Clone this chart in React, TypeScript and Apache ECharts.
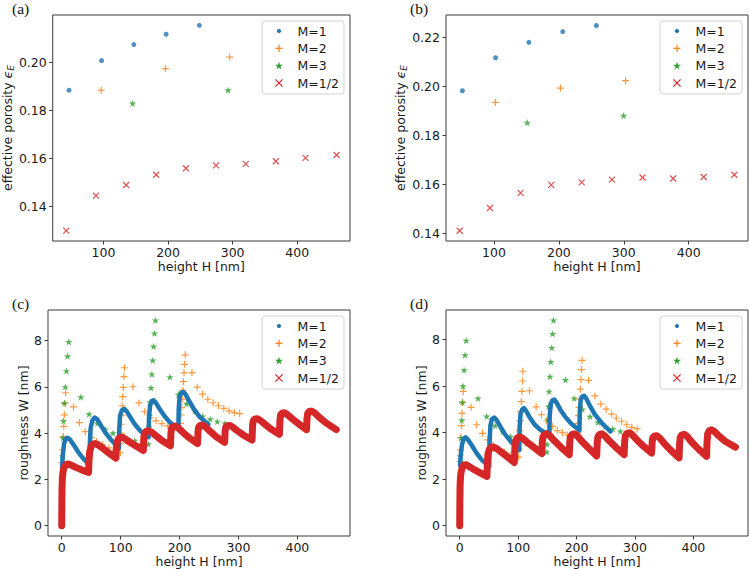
import React, { useEffect, useRef } from 'react';
import * as echarts from 'echarts';

// ---------------- data ----------------
const SERIES_NAMES = ['M=1', 'M=2', 'M=3', 'M=1/2'];

// (a) effective porosity vs. height
const aHeightM1 = [46.5, 97, 147, 197, 248.5];
const aPorosityM1 = [0.1885, 0.2008, 0.2075, 0.2118, 0.2155];
const aHeightM2 = [96.5, 196, 295.5];
const aPorosityM2 = [0.1885, 0.1975, 0.2023];
const aHeightM3 = [145, 293];
const aPorosityM3 = [0.183, 0.1885];
const aHeightMHalf = [42.2, 88.3, 135, 181.6, 227.7, 274.3, 320.4, 367, 413, 461];
const aPorosityMHalf = [0.13, 0.1446, 0.149, 0.1533, 0.156, 0.1572, 0.1578, 0.1589, 0.1603, 0.1615];

// (b) effective porosity vs. height
const bHeightM1 = [51.5, 102.5, 153.8, 206, 257.8];
const bPorosityM1 = [0.1983, 0.2118, 0.2181, 0.2225, 0.225];
const bHeightM2 = [102.2, 202.5, 302.8];
const bPorosityM2 = [0.1935, 0.1994, 0.2024];
const bHeightM3 = [151.3, 299.7];
const bPorosityM3 = [0.1853, 0.1881];
const bHeightMHalf = [47.3, 93.9, 141, 188.2, 235.2, 281.8, 328.9, 376, 423.1, 470.2];
const bPorosityMHalf = [0.141, 0.1503, 0.1565, 0.1598, 0.1608, 0.1619, 0.1628, 0.1624, 0.163, 0.1639];

// (c) roughness W vs. height H, [H, W]
const cRoughM1: number[][] = [
  [0.5, 2.45], [2, 3.1], [4, 3.55], [7, 3.76], [10, 3.8], [14, 3.72], [20, 3.5], [28, 3.18], [36, 2.92], [47, 2.62],
  [47.5, 3.4], [49, 4.2], [52, 4.55], [56, 4.67], [60, 4.6], [66, 4.35], [74, 4.02], [84, 3.7], [97, 3.35],
  [97.5, 4.1], [99, 4.75], [102, 4.98], [106, 5.05], [110, 4.95], [116, 4.7], [124, 4.38], [134, 4.08], [147.5, 3.82],
  [148, 4.6], [150, 5.2], [153, 5.38], [156, 5.42], [160, 5.3], [166, 5.05], [174, 4.75], [184, 4.45], [198, 4.18],
  [198.5, 5.0], [200, 5.55], [203, 5.74], [206, 5.78], [210, 5.68], [216, 5.4], [224, 5.05], [234, 4.7], [249, 4.38],
];
const cRoughM2: number[][] = [
  [0.8, 2.73], [1.5, 3.28], [2.5, 3.85], [3.5, 4.29], [4.5, 4.79], [5.5, 5.28], [6.5, 5.74],
  [20, 5.13], [30, 4.45], [40, 4.06], [50, 3.8], [59, 3.64], [69, 3.5], [80, 3.36], [91, 3.26],
  [99.5, 3.15], [100, 3.55], [100.5, 4.0], [101, 4.38], [101.5, 4.75], [102.5, 5.18], [103.5, 5.57], [104.5, 5.97], [105.5, 6.44], [106.5, 6.82],
  [121, 6.0], [131, 5.3], [141, 4.92], [150.5, 4.65], [160, 4.53], [170, 4.41], [180, 4.31], [190, 4.23],
  [200.5, 4.15], [201.5, 4.42], [202.5, 4.78], [203.5, 5.1], [204.5, 5.46], [205.5, 5.84], [206.5, 6.22], [207.5, 6.6], [208.5, 6.97], [209.5, 7.38],
  [221, 6.61], [230, 5.98], [239, 5.68], [248, 5.46], [257, 5.31], [266, 5.18], [275, 5.07], [284, 4.96], [293, 4.88], [302, 4.84],
];
const cRoughM3: number[][] = [
  [0, 0], [1, 3.0], [2, 3.79], [3, 4.53], [4.5, 5.29], [6, 5.99], [8, 6.68], [10, 7.32], [12, 7.94],
  [32.5, 5.55], [46.5, 4.82], [60.5, 4.42], [74, 4.16], [87, 4.0], [99.5, 3.88], [111, 3.76], [124, 3.68], [137, 3.53],
  [147, 3.52], [148, 4.28], [149, 4.75], [150, 5.34], [151.5, 5.95], [153, 6.54], [154.5, 7.14], [156, 7.74], [157.5, 8.31], [159, 8.87],
  [183.6, 6.42], [198, 5.67], [212, 5.26], [226, 4.94], [239, 4.72], [252, 4.6], [264, 4.5], [277, 4.42],
];
const cRoughMHalf: number[][] = [
  [0, 0], [0.2, 0.9], [0.5, 1.6], [1, 2.0], [2, 2.3], [4, 2.52], [7, 2.64], [11, 2.67], [16, 2.62], [24, 2.52], [34, 2.41], [45.5, 2.3],
  [46, 2.3], [46.4, 2.85], [47.5, 3.2], [50, 3.42], [53, 3.52], [57, 3.55], [63, 3.47], [72, 3.3], [82, 3.1], [92, 2.92],
  [92.5, 2.92], [92.9, 3.4], [94, 3.62], [96.5, 3.76], [100, 3.82], [104, 3.81], [110, 3.7], [119, 3.55], [129, 3.4], [138.5, 3.25],
  [139, 3.25], [139.4, 3.8], [140.5, 3.98], [143, 4.07], [147, 4.1], [152, 4.05], [160, 3.88], [170, 3.68], [184.5, 3.45],
  [185, 3.45], [185.4, 4.0], [186.5, 4.2], [189, 4.28], [193, 4.3], [198, 4.22], [206, 4.02], [216, 3.8], [230.5, 3.55],
  [231, 3.55], [231.4, 4.08], [232.5, 4.26], [235, 4.33], [239, 4.35], [244, 4.27], [252, 4.07], [262, 3.85], [276.5, 3.6],
  [277, 3.6], [277.4, 4.1], [278.5, 4.26], [281, 4.32], [285, 4.33], [290, 4.26], [298, 4.1], [308, 3.92], [323, 3.7],
  [323.5, 3.7], [323.9, 4.3], [325, 4.52], [327.5, 4.6], [331.5, 4.62], [337, 4.55], [345, 4.38], [355, 4.18], [369.5, 3.95],
  [370, 3.95], [370.4, 4.55], [371.5, 4.78], [374, 4.86], [378, 4.88], [383, 4.8], [391, 4.62], [401, 4.42], [415.5, 4.15],
  [416, 4.15], [416.4, 4.65], [417.5, 4.85], [420, 4.93], [424, 4.95], [429, 4.88], [437, 4.68], [448, 4.45], [466, 4.15],
];

// (d) roughness W vs. height H, [H, W]
const dRoughM1: number[][] = [
  [0.5, 2.6], [2, 3.1], [4, 3.5], [7, 3.75], [10, 3.8], [14, 3.7], [20, 3.48], [28, 3.15], [38, 2.82], [50.5, 2.55],
  [51, 3.5], [52.5, 4.3], [55, 4.58], [59, 4.65], [63, 4.55], [69, 4.28], [77, 3.95], [88, 3.6], [102, 3.25],
  [102.5, 4.2], [104, 4.8], [107, 5.0], [110, 5.05], [114, 4.92], [120, 4.65], [128, 4.35], [139, 4.1], [153.5, 3.9],
  [154, 4.7], [156, 5.25], [159, 5.4], [162, 5.42], [166, 5.28], [172, 5.0], [180, 4.7], [191, 4.38], [205, 4.1],
  [205.5, 4.9], [207, 5.4], [210, 5.56], [213, 5.58], [217, 5.45], [223, 5.15], [231, 4.8], [243, 4.42], [258, 4.05],
];
const dRoughM2: number[][] = [
  [0.5, 2.76], [1.2, 3.26], [2, 3.8], [3, 4.3], [4, 4.83], [5, 5.3], [6, 5.77],
  [19.4, 5.09], [29, 4.34], [39, 3.97], [48, 3.69], [57.6, 3.45], [67, 3.28], [77, 3.16], [86, 3.02], [95, 2.92],
  [101, 2.95], [101.5, 3.3], [102, 3.73], [102.5, 4.09], [103.5, 4.52], [104.5, 4.91], [105.5, 5.33], [106.5, 5.77], [107.5, 6.22], [108, 6.64],
  [119.4, 5.8], [130.8, 5.11], [140, 4.77], [149, 4.5], [158.5, 4.27], [167, 4.09], [175.6, 4.0], [184, 3.9], [193, 3.85],
  [202, 4.0], [202.5, 4.4], [203.5, 4.73], [204.5, 5.09], [205.5, 5.44], [206.5, 5.87], [207.5, 6.28], [208.5, 6.71], [209.5, 7.11],
  [220.6, 6.25], [231.4, 5.58], [241.6, 5.23], [250.8, 5.01], [259.9, 4.8], [268, 4.63], [277, 4.49], [286, 4.34], [294.6, 4.23], [303.8, 4.16],
];
const dRoughM3: number[][] = [
  [0, 0], [1, 2.99], [2, 3.77], [3.5, 4.54], [4.5, 5.3], [5.5, 6.0], [7.5, 6.69], [9, 7.33], [11, 7.96],
  [31.4, 5.47], [46.2, 4.7], [60.5, 4.3], [73.6, 4.05], [87, 3.83], [101, 3.7], [115, 3.55], [129, 3.4],
  [149, 3.17], [149.5, 3.5], [150.5, 4.05], [151, 4.56], [152, 5.13], [153, 5.77], [154.5, 6.41], [156, 7.04], [157.5, 7.65], [159, 8.25], [160.5, 8.83],
  [181, 6.27], [196, 5.47], [210, 5.0], [223, 4.69], [236.5, 4.44], [249.5, 4.26], [262, 4.16], [275, 4.06],
];
const dRoughMHalf: number[][] = [
  [0, 0], [0.2, 0.9], [0.5, 1.6], [1, 1.95], [2, 2.25], [4, 2.48], [7, 2.6], [11, 2.62], [16, 2.55], [24, 2.42], [35, 2.27], [46.5, 2.12],
  [47, 2.12], [47.4, 2.75], [48.5, 3.1], [51, 3.3], [54, 3.37], [58, 3.38], [64, 3.3], [73, 3.13], [83, 2.93], [93.5, 2.72],
  [94, 2.72], [94.4, 3.35], [95.5, 3.62], [98, 3.76], [102, 3.82], [107, 3.77], [115, 3.6], [126, 3.38], [140.5, 3.1],
  [141, 3.1], [141.4, 3.6], [142.5, 3.82], [145, 3.92], [149, 3.95], [154, 3.87], [162, 3.65], [173, 3.38], [187.5, 3.05],
  [188, 3.05], [188.4, 3.6], [189.5, 3.82], [192, 3.92], [196, 3.95], [201, 3.87], [209, 3.63], [220, 3.35], [234.5, 3.0],
  [235, 3.0], [235.4, 3.58], [236.5, 3.82], [239, 3.92], [243, 3.95], [248, 3.87], [256, 3.65], [267, 3.38], [281.5, 3.05],
  [282, 3.05], [282.4, 3.62], [283.5, 3.86], [286, 3.96], [290, 4.0], [295, 3.92], [303, 3.7], [314, 3.43], [328.5, 3.12],
  [329, 3.12], [329.4, 3.58], [330.5, 3.77], [333, 3.85], [337, 3.87], [342, 3.78], [350, 3.54], [361, 3.25], [375.5, 2.92],
  [376, 2.92], [376.4, 3.52], [377.5, 3.8], [380, 3.9], [384, 3.93], [389, 3.85], [397, 3.6], [408, 3.31], [422.5, 2.98],
  [423, 2.98], [423.4, 3.6], [424.5, 3.95], [427, 4.08], [431, 4.12], [436, 4.05], [444, 3.85], [455, 3.62], [472, 3.38],
];

// axis ticks
const heightTicksTop = [100, 200, 300, 400];
const heightTicksBottom = [0, 100, 200, 300, 400];
const porosityTicksA = [0.14, 0.16, 0.18, 0.2];
const porosityTicksB = [0.14, 0.16, 0.18, 0.2, 0.22];
const roughnessTicks = [0, 2, 4, 6, 8];

// ---------------- styling ----------------
const BLUE = '#1f77b4';
const ORANGE = '#ff7f0e';
const GREEN = '#2ca02c';
const RED = '#d62728';
const FONT = 'DejaVu Sans';
const FONT_SIZE = 12.5;
const INK = '#1a1a1a';
const SPINE = '#3a3a3a';

const GRIDS = [
  { left: 48, top: 15, width: 302, height: 226 },
  { left: 446, top: 15, width: 302, height: 226 },
  { left: 48, top: 310, width: 302, height: 226 },
  { left: 446, top: 310, width: 302, height: 226 },
];
const X_RANGES = [[21.3, 481.9], [26.2, 491.3], [-23.3, 489.3], [-23.5, 493.5]];
const Y_RANGES = [[0.1257, 0.2198], [0.1368, 0.2293], [-0.4435, 9.3135], [-0.4415, 9.2715]];

function starPoints(cx: number, cy: number, R: number): number[][] {
  const pts: number[][] = [];
  for (let k = 0; k < 10; k++) {
    const ang = ((-90 + 36 * k) * Math.PI) / 180;
    const rad = k % 2 === 0 ? R : R * 0.382;
    pts.push([cx + rad * Math.cos(ang), cy + rad * Math.sin(ang)]);
  }
  return pts;
}
const STAR_SYMBOL =
  'path://' +
  starPoints(10, 10, 10)
    .map((p, i) => (i ? 'L' : 'M') + p[0].toFixed(3) + ',' + p[1].toFixed(3))
    .join('') +
  'Z';
const PLUS_SYMBOL = 'path://M5,0L5,10M0,5L10,5';
const CROSS_SYMBOL = 'path://M0,0L10,10M10,0L0,10';

const zip = (xs: number[], ys: number[]) => xs.map((x, i) => [x, ys[i]]);

function dots(idx: number, data: number[][], size: number) {
  return {
    name: SERIES_NAMES[0], type: 'scatter', xAxisIndex: idx, yAxisIndex: idx, data,
    symbol: 'circle', symbolSize: size, itemStyle: { color: BLUE }, silent: true,
  };
}
function strokeMarks(idx: number, name: string, data: number[][], symbol: string, color: string, size: number) {
  return {
    name, type: 'scatter', xAxisIndex: idx, yAxisIndex: idx, data,
    symbol, symbolSize: size, silent: true,
    itemStyle: { color: 'rgba(0,0,0,0)', borderColor: color, borderWidth: 1.2 },
  };
}
function stars(idx: number, data: number[][], size: number) {
  return {
    name: SERIES_NAMES[2], type: 'scatter', xAxisIndex: idx, yAxisIndex: idx, data,
    symbol: STAR_SYMBOL, symbolKeepAspect: true, symbolSize: size, silent: true,
    itemStyle: { color: GREEN },
  };
}
function band(idx: number, name: string, data: number[][], color: string, width: number) {
  return {
    name, type: 'line', xAxisIndex: idx, yAxisIndex: idx, data,
    showSymbol: false, symbol: 'none', silent: true,
    lineStyle: { color, width, join: 'round', cap: 'round' },
  };
}

const axisText = { fontFamily: FONT, fontSize: FONT_SIZE, color: INK };

function xAxis(i: number, ticks: number[]) {
  return {
    type: 'value', gridIndex: i, min: X_RANGES[i][0], max: X_RANGES[i][1],
    name: 'height H [nm]', nameLocation: 'middle', nameGap: 19, nameTextStyle: axisText,
    axisLine: { show: false, onZero: false },
    axisTick: { show: true, length: 3.5, lineStyle: { color: SPINE, width: 1 }, customValues: ticks },
    axisLabel: { show: true, margin: 5, customValues: ticks, ...axisText, formatter: (v: number) => String(v) },
    splitLine: { show: false },
  };
}
function yAxis(i: number, ticks: number[], name: string, gap: number, digits: number, rich?: any) {
  return {
    type: 'value', gridIndex: i, min: Y_RANGES[i][0], max: Y_RANGES[i][1],
    name, nameLocation: 'middle', nameGap: gap, nameRotate: 90,
    nameTextStyle: { ...axisText, rich },
    axisLine: { show: false, onZero: false },
    axisTick: { show: true, length: 3.5, lineStyle: { color: SPINE, width: 1 }, customValues: ticks },
    axisLabel: { show: true, margin: 6, customValues: ticks, ...axisText, formatter: (v: number) => v.toFixed(digits) },
    splitLine: { show: false },
  };
}

const porosityRich = {
  eps: { fontFamily: FONT, fontSize: FONT_SIZE, fontStyle: 'italic', color: INK, lineHeight: 15 },
  sub: { fontFamily: FONT, fontSize: 9, fontStyle: 'italic', color: INK, lineHeight: 9, verticalAlign: 'bottom' },
};

function legendBox(x0: number, y0: number) {
  const w = 82;
  const h = 73;
  const mx = x0 + 17;
  const tx = x0 + 35.5;
  const rows = [10, 27.3, 44.6, 62].map((d) => y0 + d);
  const s = 3.6;
  const children: any[] = [
    { type: 'rect', shape: { x: x0, y: y0, width: w, height: h, r: 3 }, style: { fill: 'rgba(255,255,255,0.8)', stroke: '#d3d3d3', lineWidth: 1 } },
    { type: 'circle', shape: { cx: mx, cy: rows[0], r: 2.1 }, style: { fill: BLUE } },
    { type: 'line', shape: { x1: mx - s, y1: rows[1], x2: mx + s, y2: rows[1] }, style: { stroke: ORANGE, lineWidth: 1.2 } },
    { type: 'line', shape: { x1: mx, y1: rows[1] - s, x2: mx, y2: rows[1] + s }, style: { stroke: ORANGE, lineWidth: 1.2 } },
    { type: 'polygon', shape: { points: starPoints(mx, rows[2] + 0.4, 4.2) }, style: { fill: GREEN } },
    { type: 'line', shape: { x1: mx - s, y1: rows[3] - s, x2: mx + s, y2: rows[3] + s }, style: { stroke: RED, lineWidth: 1.2 } },
    { type: 'line', shape: { x1: mx - s, y1: rows[3] + s, x2: mx + s, y2: rows[3] - s }, style: { stroke: RED, lineWidth: 1.2 } },
  ];
  SERIES_NAMES.forEach((n, i) => {
    children.push({
      type: 'text', x: tx, y: rows[i],
      style: { text: n, fontFamily: FONT, fontSize: FONT_SIZE, fill: INK, align: 'left', verticalAlign: 'middle', textAlign: 'left', textVerticalAlign: 'middle' },
    });
  });
  return { type: 'group', z: 100, silent: true, children };
}

function panelLabel(text: string, x: number, y: number) {
  return {
    type: 'text', x, y, z: 100, silent: true,
    style: { text, fontFamily: 'Liberation Serif', fontSize: 15.5, fill: '#111', align: 'left', verticalAlign: 'top', textAlign: 'left', textVerticalAlign: 'top' },
  };
}

const option: any = {
  animation: false,
  backgroundColor: '#ffffff',
  grid: GRIDS.map((g) => ({ ...g, show: true, borderColor: SPINE, borderWidth: 1, backgroundColor: 'transparent', containLabel: false })),
  xAxis: [xAxis(0, heightTicksTop), xAxis(1, heightTicksTop), xAxis(2, heightTicksBottom), xAxis(3, heightTicksBottom)],
  yAxis: [
    yAxis(0, porosityTicksA, 'effective porosity {eps|ϵ}{sub|E}', 34, 2, porosityRich),
    yAxis(1, porosityTicksB, 'effective porosity {eps|ϵ}{sub|E}', 34, 2, porosityRich),
    yAxis(2, roughnessTicks, 'roughness W [nm]', 15, 0),
    yAxis(3, roughnessTicks, 'roughness W [nm]', 15, 0),
  ],
  series: [
    dots(0, zip(aHeightM1, aPorosityM1), 5),
    strokeMarks(0, SERIES_NAMES[1], zip(aHeightM2, aPorosityM2), PLUS_SYMBOL, ORANGE, 7),
    stars(0, zip(aHeightM3, aPorosityM3), 7.5),
    strokeMarks(0, SERIES_NAMES[3], zip(aHeightMHalf, aPorosityMHalf), CROSS_SYMBOL, RED, 6),

    dots(1, zip(bHeightM1, bPorosityM1), 5),
    strokeMarks(1, SERIES_NAMES[1], zip(bHeightM2, bPorosityM2), PLUS_SYMBOL, ORANGE, 7),
    stars(1, zip(bHeightM3, bPorosityM3), 7.5),
    strokeMarks(1, SERIES_NAMES[3], zip(bHeightMHalf, bPorosityMHalf), CROSS_SYMBOL, RED, 6),

    band(2, SERIES_NAMES[0], cRoughM1, BLUE, 4.5),
    strokeMarks(2, SERIES_NAMES[1], cRoughM2, PLUS_SYMBOL, ORANGE, 7),
    stars(2, cRoughM3, 7.5),
    band(2, SERIES_NAMES[3], cRoughMHalf, RED, 7),

    band(3, SERIES_NAMES[0], dRoughM1, BLUE, 4.5),
    strokeMarks(3, SERIES_NAMES[1], dRoughM2, PLUS_SYMBOL, ORANGE, 7),
    stars(3, dRoughM3, 7.5),
    band(3, SERIES_NAMES[3], dRoughMHalf, RED, 7),
  ],
  graphic: [
    legendBox(262, 21),
    legendBox(660, 21),
    legendBox(262, 316),
    legendBox(660, 316),
    panelLabel('(a)', 12, 0),
    panelLabel('(b)', 410, 0),
    panelLabel('(c)', 12, 295),
    panelLabel('(d)', 410, 295),
  ],
};

export default function App() {
  const ref = useRef<HTMLDivElement>(null);
  useEffect(() => {
    if (!ref.current) return;
    const chart = echarts.init(ref.current, null, { renderer: 'svg' });
    chart.setOption(option);
    return () => chart.dispose();
  }, []);
  return <div ref={ref} style={{ position: 'fixed', left: 0, top: 0, width: 750, height: 569, background: '#fff' }} />;
}
